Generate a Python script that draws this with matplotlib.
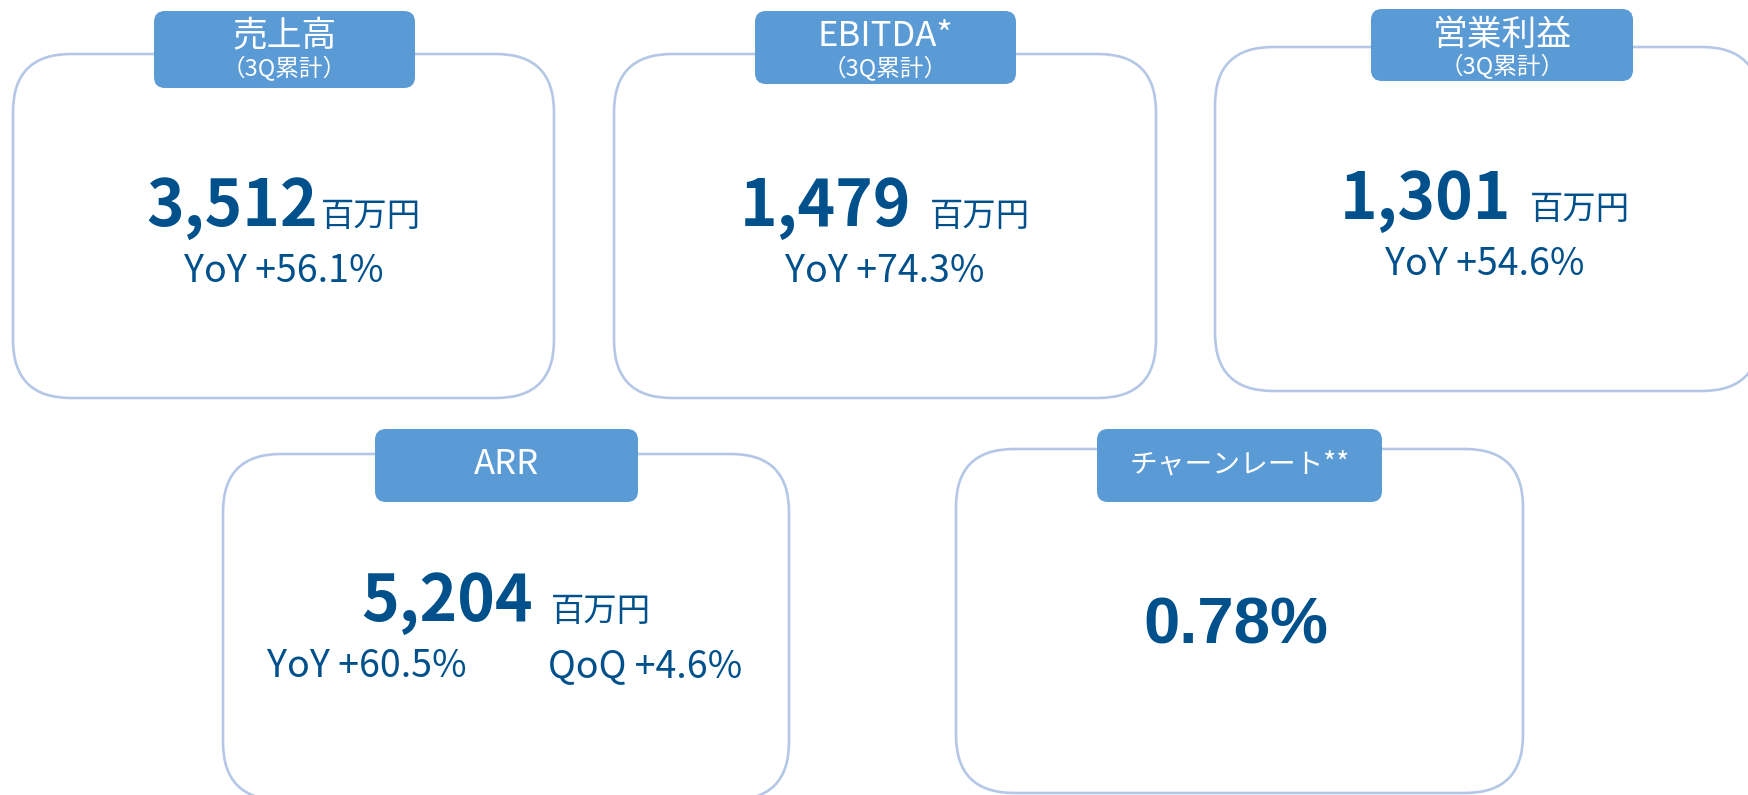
import matplotlib
matplotlib.use('Agg')
import matplotlib.pyplot as plt
from matplotlib.patches import FancyBboxPatch

# KPI data
titles = ['売上高', 'EBITDA*', '営業利益', 'ARR', 'チャーンレート**']
subtitles = ['（3Q累計）', '（3Q累計）', '（3Q累計）', '', '']
values = ['3,512', '1,479', '1,301', '5,204', '0.78%']
units = ['百万円', '百万円', '百万円', '百万円', '']
yoy = ['+56.1%', '+74.3%', '+54.6%', '+60.5%', '']
qoq = ['', '', '', '+4.6%', '']

# layout in pixels (x, y top, w, h)
cards = [(13, 54, 541, 344), (614, 54, 542, 344), (1215, 47, 545, 344),
         (223, 454, 566, 346), (956, 449, 567, 344)]
tabs = [(154, 11, 261, 77), (755, 11, 261, 73), (1371, 9, 262, 72),
        (375, 429, 263, 73), (1097, 429, 285, 73)]
gaps = [3, 18, 19, 18, 0]

DARK = '#00508C'
TAB = '#5B9BD5'
EDGE = '#B4C7E7'
JP = ['Noto Sans CJK JP', 'DejaVu Sans']

fig = plt.figure(figsize=(17.48, 7.95), dpi=100)
ax = fig.add_axes([0, 0, 1, 1])
ax.set_xlim(0, 1748)
ax.set_ylim(795, 0)
ax.axis('off')
renderer = fig.canvas.get_renderer()

for i in range(len(titles)):
    x, y, w, h = cards[i]
    ax.add_patch(FancyBboxPatch((x, y), w, h, boxstyle='round,pad=0,rounding_size=58',
                                fc='white', ec=EDGE, lw=1.9, zorder=1))
    tx, ty, tw, th = tabs[i]
    ax.add_patch(FancyBboxPatch((tx, ty), tw, th, boxstyle='round,pad=0,rounding_size=11',
                                fc=TAB, ec='none', zorder=2))
    cx = tx + tw / 2
    if subtitles[i]:
        ax.text(cx, ty + 26, titles[i], color='white', fontsize=25, family=JP,
                ha='center', va='center', zorder=3)
        ax.text(cx, ty + 58, subtitles[i], color='white', fontsize=17, family=JP,
                ha='center', va='center', zorder=3)
    else:
        fs = 25 if titles[i] == 'ARR' else 20
        ax.text(cx, ty + th / 2 - 1, titles[i], color='white', fontsize=fs, family=JP,
                ha='center', va='center', zorder=3)

    mid = x + w / 2
    if i == 2:
        mid = 1485
    if units[i]:
        base = y + 172 if i < 3 else y + 167
        t1 = ax.text(0, base, values[i], color=DARK, fontsize=46, fontweight='bold',
                     family=JP, ha='left', va='baseline', zorder=3)
        t2 = ax.text(0, base, units[i], color=DARK, fontsize=24, family=JP,
                     ha='left', va='baseline', zorder=3)
        w1 = t1.get_window_extent(renderer).width
        w2 = t2.get_window_extent(renderer).width
        start = mid - (w1 + gaps[i] + w2) / 2
        t1.set_x(start)
        t2.set_x(start + w1 + gaps[i])
        if qoq[i]:
            ax.text(mid - 139, base + 56, 'YoY ' + yoy[i], color=DARK, fontsize=27,
                    family=JP, ha='center', va='baseline', zorder=3)
            ax.text(mid + 139, base + 56, 'QoQ ' + qoq[i], color=DARK, fontsize=27,
                    family=JP, ha='center', va='baseline', zorder=3)
        else:
            ax.text(mid, base + 56, 'YoY ' + yoy[i], color=DARK, fontsize=27,
                    family=JP, ha='center', va='baseline', zorder=3)
    else:
        ax.text(mid - 4, y + 195, values[i], color=DARK, fontsize=47, fontweight='bold',
                family=['Liberation Sans', 'DejaVu Sans'], ha='center', va='baseline', zorder=3)

fig.savefig('out.png', dpi=100, facecolor='white')
